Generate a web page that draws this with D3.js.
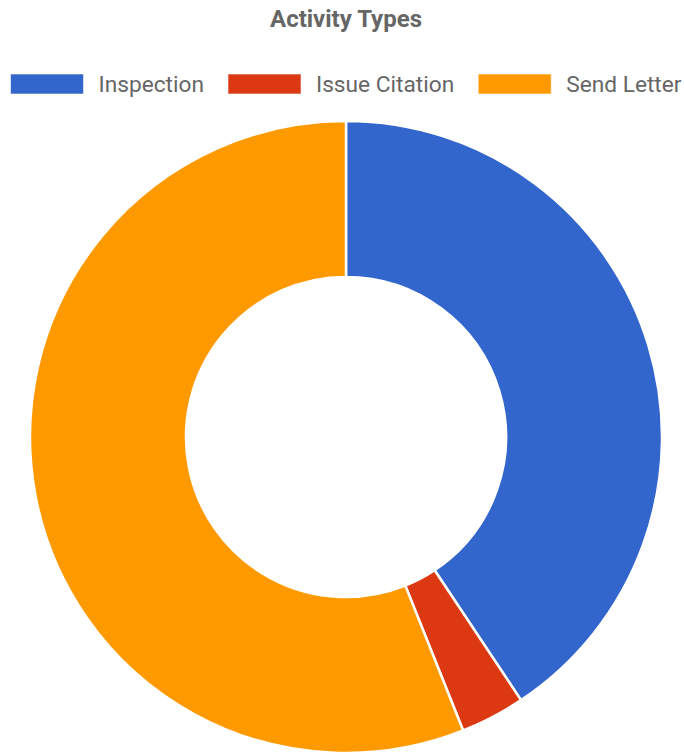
<!DOCTYPE html>
<html>
<head>
<meta charset="utf-8">
<script src="https://cdn.jsdelivr.net/npm/d3@7"></script>
<style>
  html, body { margin: 0; padding: 0; background: #fff; }
  svg { display: block; }
</style>
</head>
<body>
<svg id="chart" width="684" height="756"></svg>
<script>
const title = "Activity Types";
const categories = ["Inspection", "Issue Citation", "Send Letter"];
const values = [37, 3, 51];
const colors = ["#3366cc", "#dc3912", "#ff9900"];

const W = 684, H = 756;
const svg = d3.select("#chart");
const font = "Roboto, 'Liberation Sans', Arial, sans-serif";

svg.append("text")
  .attr("x", 346).attr("y", 27)
  .attr("text-anchor", "middle")
  .attr("font-family", font)
  .attr("font-weight", "bold")
  .attr("font-size", 24)
  .attr("fill", "#666")
  .text(title);

// Legend
const boxW = 73, boxH = 20, gapText = 15, gapItem = 24, legendY = 74, fs = 22.7;
const legend = svg.append("g");
const items = legend.selectAll("g").data(categories).join("g");
items.append("rect")
  .attr("width", boxW).attr("height", boxH)
  .attr("fill", (d, i) => colors[i])
  .attr("stroke", "rgba(255,255,255,0.6)").attr("stroke-width", 1);
items.append("text")
  .attr("x", boxW + gapText).attr("y", boxH / 2)
  .attr("dy", "0.36em")
  .attr("font-family", font)
  .attr("font-size", fs)
  .attr("fill", "#666")
  .text(d => d);
let widths = [];
items.each(function() { widths.push(d3.select(this).select("text").node().getComputedTextLength()); });
const total = d3.sum(widths, w => boxW + gapText + w) + gapItem * (categories.length - 1);
let x = 346 - total / 2;
items.attr("transform", (d, i) => {
  const t = `translate(${x},${legendY})`;
  x += boxW + gapText + widths[i] + gapItem;
  return t;
});

// Donut
const cx = 346, cy = 437, outerR = 316, innerR = 160;
const pie = d3.pie().sort(null).value(d => d)(values);
const arc = d3.arc().innerRadius(innerR).outerRadius(outerR);
svg.append("g")
  .attr("transform", `translate(${cx},${cy})`)
  .selectAll("path")
  .data(pie)
  .join("path")
  .attr("d", arc)
  .attr("fill", (d, i) => colors[i])
  .attr("stroke", "#fff")
  .attr("stroke-width", 2.5);
</script>
</body>
</html>
